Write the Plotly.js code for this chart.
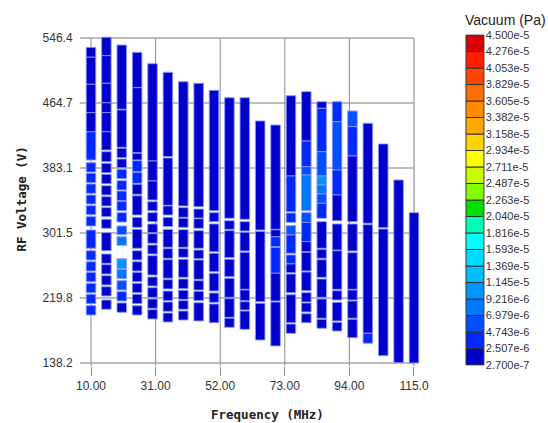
<!DOCTYPE html>
<html><head><meta charset="utf-8">
<script src="https://cdn.plot.ly/plotly-3.0.1.min.js"></script>
<style>html,body{margin:0;padding:0;background:#fff;}#chart{width:548px;height:423px;}</style>
</head><body><div id="chart"></div>
<script>
// Frequencies (MHz) of the measured columns
const frequencies = [10,15,20,25,30,35,40,45,50,55,60,65,70,75,80,85,90,95,100,105,110,115];

// Vacuum estimates (Pa) used in the cells
const vA = 1.4e-6, vB = 3.6e-6, vC = 5.9e-6, vD = 8.1e-6, vE = 1.03e-5;

// Cells per column: [top RF voltage (V), bottom RF voltage (V), vacuum (Pa)]
const c10 = [[534.7,522.2,vA],[522.2,488.2,vA],[488.2,452.6,vA],[452.6,428.7,vA],[428.7,393.2,vB],[389.8,378.1,vB],[376.5,364.7,vB],[363.0,351.3,vB],[349.2,337.9,vB],[335.8,324.5,vB],[322.0,310.3,vB],[305.2,282.3,vB],[279.2,267.6,vB],[265.4,253.7,vB],[252.1,240.3,vB],[238.3,226.5,vB],[224.5,212.7,vB],[210.2,198.5,vB]];
const c15 = [[547.3,524.2,vA],[524.2,489.5,vA],[489.5,465.1,vA],[465.1,452.6,vA],[452.6,428.7,vA],[428.7,405.7,vA],[403.6,391.0,vA],[389.0,377.2,vA],[375.2,363.4,vA],[360.9,349.2,vA],[347.1,335.4,vA],[333.3,322.0,vA],[318.7,307.4,vA],[301.9,279.2,vA],[275.1,263.4,vA],[261.7,250.0,vA],[247.9,236.2,vA],[234.0,222.4,vA],[217.3,205.7,vA]];
const c20 = [[537.6,456.9,vA],[456.0,409.1,vA],[407.9,396.1,vA],[394.4,383.5,vA],[381.5,369.7,vB],[367.2,355.5,vB],[354.2,342.1,vB],[341.3,329.5,vB],[327.0,315.3,vB],[310.3,299.4,vC],[296.8,286.0,vD],[269.2,256.6,vE],[255.9,244.1,vD],[241.6,229.9,vC],[227.8,216.1,vB],[213.6,201.9,vA]];
const c25 = [[528.4,484.0,vA],[484.0,402.3,vA],[401.6,393.2,vA],[392.3,378.5,vB],[377.7,363.9,vB],[362.7,350.1,vA],[348.3,324.1,vA],[321.2,308.6,vA],[306.1,282.3,vA],[279.2,267.6,vA],[265.4,253.7,vA],[252.1,240.3,vA],[238.3,226.5,vA],[224.5,212.7,vA],[210.2,198.5,vA]];
const c30 = [[514.1,391.9,vA],[391.9,366.8,vA],[366.8,342.9,vA],[340.8,329.5,vA],[327.0,315.7,vA],[312.8,301.9,vA],[300.6,288.6,vA],[286.4,275.1,vA],[273.0,248.7,vA],[246.2,234.9,vA],[232.8,220.7,vA],[218.6,206.9,vA],[205.2,193.5,vA]];
const c35 = [[503.3,397.6,vA],[395.7,336.3,vA],[335.4,324.1,vA],[321.2,309.4,vA],[306.1,283.5,vA],[281.8,269.7,vA],[268.0,244.6,vA],[242.8,231.2,vA],[228.6,216.5,vA],[214.8,203.1,vA],[201.0,189.7,vA]];
const c40 = [[491.5,335.4,vA],[333.3,321.2,vA],[320.0,308.6,vA],[305.6,283.5,vA],[281.8,271.0,vA],[268.5,245.8,vA],[243.7,231.5,vA],[229.5,218.2,vA],[216.5,205.7,vA],[203.5,192.2,vA]];
const c45 = [[489.5,334.5,vA],[331.6,320.3,vA],[319.4,307.4,vA],[304.4,282.3,vA],[280.1,269.2,vA],[267.6,243.3,vA],[241.6,229.9,vA],[228.3,216.5,vA],[213.9,191.0,vA]];
const c50 = [[480.7,329.5,vA],[327.0,315.7,vA],[312.8,278.0,vA],[276.0,252.9,vA],[250.9,228.6,vA],[226.1,214.4,vA],[212.3,188.8,vA]];
const c55 = [[471.4,320.0,vA],[316.9,306.1,vA],[304.4,270.5,vA],[268.5,246.6,vA],[244.6,220.7,vA],[219.0,195.6,vA],[194.4,183.0,vA]];
const c60 = [[471.4,318.7,vA],[315.7,304.0,vA],[302.4,278.9,vA],[277.2,230.8,vA],[229.9,216.5,vA],[215.2,204.8,vA],[203.5,180.5,vA]];
const c65 = [[442.2,305.3,vA],[303.6,215.2,vA],[213.2,167.1,vA]];
const c70 = [[437.1,306.1,vA],[305.5,296.8,vA],[296.8,284.3,vB],[283.5,250.9,vB],[250.9,216.1,vA],[214.8,159.6,vA]];
const c75 = [[473.9,373.1,vA],[373.1,328.2,vB],[326.6,314.9,vB],[310.7,299.0,vC],[299.0,276.0,vB],[273.9,262.6,vB],[262.6,251.6,vA],[250.0,226.5,vA],[224.0,188.8,vA],[187.2,175.5,vA]];
const c80 = [[479.0,417.0,vA],[417.0,384.8,vB],[384.8,374.3,vC],[374.3,329.5,vD],[327.0,314.7,vC],[314.7,290.6,vB],[290.6,278.0,vA],[277.2,253.8,vA],[252.5,229.0,vA],[226.5,214.8,vA],[213.6,202.3,vA],[200.1,188.8,vA]];
const c85 = [[466.4,458.1,vA],[458.1,403.6,vB],[403.6,373.1,vC],[373.1,361.8,vE],[361.8,350.5,vD],[350.5,338.8,vC],[338.8,320.0,vB],[315.7,282.3,vA],[281.0,269.7,vA],[268.0,245.8,vA],[243.7,220.7,vA],[218.6,194.4,vA],[193.1,181.8,vA]];
const c90 = [[466.4,441.3,vB],[441.3,380.6,vC],[380.6,349.2,vB],[349.2,316.9,vA],[312.8,280.1,vA],[279.2,230.8,vA],[229.0,217.3,vA],[214.4,191.0,vA],[189.3,178.4,vA]];
const c95 = [[454.7,435.0,vC],[435.0,398.2,vB],[398.2,315.7,vA],[312.8,278.9,vA],[276.7,230.8,vA],[229.9,217.3,vA],[216.1,194.4,vA],[193.1,170.0,vA]];
const c100 = [[439.3,313.7,vA],[311.9,175.5,vA],[175.5,163.0,vB]];
const c105 = [[413.3,308.1,vA],[306.5,147.4,vA]];
const c110 = [[368.1,138.6,vA]];
const c115 = [[327.0,138.2,vA]];
const columns = [c10,c15,c20,c25,c30,c35,c40,c45,c50,c55,c60,c65,c70,c75,c80,c85,c90,c95,c100,c105,c110,c115];

// Colour scale: bin edges, labels and colours
const vacuumEdges = [2.700e-7,2.507e-6,4.743e-6,6.979e-6,9.216e-6,1.145e-5,1.369e-5,1.593e-5,1.816e-5,2.040e-5,2.263e-5,2.487e-5,2.711e-5,2.934e-5,3.158e-5,3.382e-5,3.605e-5,3.829e-5,4.053e-5,4.276e-5,4.500e-5];
const edgeLabels = ['2.700e-7','2.507e-6','4.743e-6','6.979e-6','9.216e-6','1.145e-5','1.369e-5','1.593e-5','1.816e-5','2.040e-5','2.263e-5','2.487e-5','2.711e-5','2.934e-5','3.158e-5','3.382e-5','3.605e-5','3.829e-5','4.053e-5','4.276e-5','4.500e-5'];
const binColors = ['rgb(0,0,205)','rgb(0,40,255)','rgb(0,80,255)','rgb(0,120,255)','rgb(0,150,255)','rgb(0,190,255)','rgb(0,220,255)','rgb(0,255,255)','rgb(0,255,180)','rgb(0,225,0)','rgb(130,255,0)','rgb(200,255,0)','rgb(255,255,0)','rgb(255,210,0)','rgb(255,170,0)','rgb(255,140,0)','rgb(255,110,0)','rgb(255,70,0)','rgb(255,30,0)','rgb(215,0,10)'];

// Axis ticks
const yTickVals = [138.2,219.8,301.5,383.1,464.7,546.4];
const yTickText = ['138.2','219.8','301.5','383.1','464.7','546.4'];
const xTickVals = [10,31,52,73,94,115];
const xTickText = ['10.00','31.00','52.00','73.00','94.00','115.0'];

function binOf(v){
  for(let i=0;i<binColors.length;i++){ if(v>=vacuumEdges[i] && v<vacuumEdges[i+1]) return i; }
  return binColors.length-1;
}

const bx=[], bBase=[], bH=[], bCol=[];
columns.forEach((col,i)=>col.forEach(([top,bot,vac])=>{
  bx.push(frequencies[i]); bBase.push(bot); bH.push(top-bot); bCol.push(binColors[binOf(vac)]);
}));

const cells = {type:'bar', x:bx, y:bH, base:bBase, width:3.1, xaxis:'x', yaxis:'y',
  marker:{color:bCol, line:{color:'rgba(140,150,255,0.9)', width:1}}, hoverinfo:'skip'};

const scale = {type:'bar', x:binColors.map(()=>0), y:binColors.map(()=>1), base:binColors.map((c,i)=>i), width:1,
  xaxis:'x2', yaxis:'y2', marker:{color:binColors, line:{color:'#333', width:1}}, hoverinfo:'skip'};

const shapes = [];
yTickVals.forEach(v=>shapes.push({type:'line', xref:'x', yref:'y', x0:6.4, x1:115, y0:v, y1:v, layer:'below', line:{color:'#bdbdbd', width:2}}));
xTickVals.slice(0,-1).forEach(v=>shapes.push({type:'line', xref:'x', yref:'y', x0:v, x1:v, y0:134.4, y1:546.4, layer:'below', line:{color:'#8c8c8c', width:1}}));
shapes.push({type:'line', xref:'x', yref:'y', x0:115, x1:115, y0:134.4, y1:546.4, layer:'below', line:{color:'#bdbdbd', width:2}});

const layout = {
  width:548, height:423, margin:{l:79, r:0, t:30, b:57},
  paper_bgcolor:'#fff', plot_bgcolor:'rgba(0,0,0,0)', showlegend:false, barmode:'overlay',
  font:{family:'Liberation Sans, Arial, sans-serif', color:'#333'},
  xaxis:{domain:[0,0.73348], range:[6.1,117.93], tickvals:xTickVals, ticktext:xTickText, ticks:'outside', ticklen:9, tickcolor:'#8c8c8c', tickwidth:1,
    showgrid:false, zeroline:false, showline:false, tickfont:{size:12, color:'#333'}, fixedrange:true},
  yaxis:{domain:[0,1], range:[134.43,556.45], tickvals:yTickVals, ticktext:yTickText, ticks:'outside', ticklen:3, tickcolor:'rgba(0,0,0,0)',
    showgrid:false, zeroline:false, showline:false, tickfont:{size:12, color:'#333'}, fixedrange:true},
  xaxis2:{domain:[0.8232,0.8654], range:[-0.55,0.55], visible:false, anchor:'y2', fixedrange:true},
  yaxis2:{domain:[0.0006,0.9875], range:[-0.05,20.05], anchor:'x2', side:'right', tickvals:binColors.map((c,i)=>i).concat([20]), ticktext:edgeLabels,
    ticks:'', showgrid:false, zeroline:false, showline:false, tickfont:{size:11, color:'#333'}, fixedrange:true},
  shapes:shapes,
  annotations:[
    {text:'Frequency (MHz)', xref:'paper', yref:'paper', x:0.4009, y:-0.1429, xanchor:'center', yanchor:'middle', showarrow:false,
      font:{family:'DejaVu Sans Mono, monospace', size:12.5, weight:'bold', color:'#222'}},
    {text:'RF Voltage (V)', xref:'paper', yref:'paper', x:-0.1226, y:0.497, xanchor:'center', yanchor:'middle', textangle:-90, showarrow:false,
      font:{family:'DejaVu Sans Mono, monospace', size:12.5, weight:'bold', color:'#222'}},
    {text:'Vacuum (Pa)', xref:'paper', yref:'paper', x:0.9104, y:1.0298, xanchor:'center', yanchor:'middle', showarrow:false,
      font:{family:'Liberation Sans, Arial, sans-serif', size:14, color:'#222'}}
  ]
};

Plotly.newPlot('chart', [cells, scale], layout, {displayModeBar:false, staticPlot:true});
</script></body></html>
